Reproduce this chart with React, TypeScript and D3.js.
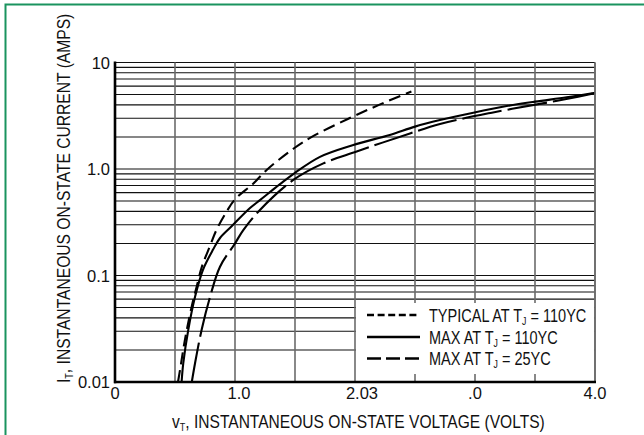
import * as d3 from "d3";

// tick values and the labels as printed on the sheet
const xTickValues = [0, 1, 2, 3, 4];
const xTickLabels = ["0", "1.0", "2.03", ".0", "4.0"];
const yTickValues = [0.01, 0.1, 1, 10];
const yTickLabels = ["0.01", "0.1", "1.0", "10"];

// [volts, amps]
const typical110: [number, number][] = [
  [0.525, 0.01], [0.542, 0.013], [0.583, 0.025], [0.639, 0.051], [0.681, 0.079],
  [0.723, 0.12], [0.792, 0.19], [0.847, 0.27], [0.931, 0.4], [1.0, 0.52],
  [1.153, 0.73], [1.264, 0.98], [1.486, 1.55], [1.64, 2.0], [1.94, 2.95],
  [2.2, 4.0], [2.47, 5.35],
];
const max110: [number, number][] = [
  [0.555, 0.01], [0.569, 0.015], [0.611, 0.031], [0.667, 0.063], [0.733, 0.113],
  [0.817, 0.175], [0.875, 0.225], [0.972, 0.29], [1.125, 0.43], [1.208, 0.51],
  [1.375, 0.72], [1.5, 0.92], [1.708, 1.3], [1.986, 1.68], [2.29, 2.09],
  [2.5, 2.5], [2.708, 2.88], [2.986, 3.38], [3.264, 3.9], [3.5, 4.29],
  [3.764, 4.71], [4.0, 5.2],
];
const max25: [number, number][] = [
  [0.64, 0.01], [0.667, 0.015], [0.722, 0.031], [0.792, 0.063], [0.875, 0.121],
  [1.0, 0.2], [1.069, 0.267], [1.208, 0.413], [1.486, 0.79], [1.736, 1.13],
  [2.014, 1.46], [2.458, 2.16], [2.708, 2.65], [3.14, 3.38], [3.6, 4.2],
  [3.75, 4.52], [4.0, 5.15],
];

const legendPrefix = ["TYPICAL AT T", "MAX AT T", "MAX AT T"];
const legendSuffix = [" = 110YC", " = 110YC", " = 25YC"];

const font = "'Liberation Sans', Arial, sans-serif";

export default function App() {
  const x = d3.scaleLinear().domain([0, 4]).range([115, 595]);
  const y = d3.scaleLog().domain([0.01, 10]).range([382, 62.5]);

  const line = d3
    .line<[number, number]>()
    .x((d) => x(d[0]))
    .y((d) => y(d[1]))
    .curve(d3.curveCatmullRom.alpha(0.5));

  // horizontal grid: every 1..9 step inside each decade
  const hGrid: number[] = [];
  [0.01, 0.1, 1].forEach((d) => {
    for (let k = 1; k <= 9; k++) hGrid.push(d * k);
  });
  hGrid.push(10);
  const vGrid = d3.range(0.5, 4.01, 0.5);

  const legendX = 356, legendY = 303;
  const curves = [
    { data: typical110, dash: "12,6", legendDash: "7,3.6" },
    { data: max110, dash: null, legendDash: null },
    { data: max25, dash: "40,6", legendDash: "14,5" },
  ];
  const rowY = [315, 337, 358.5];

  return (
    <svg
      width={644}
      height={435}
      style={{ position: "absolute", left: 0, top: 0, background: "#fff" }}
      fontFamily={font}
    >
      {/* frame */}
      <path d="M5.5,435 V4.5 H644" fill="none" stroke="#1a935f" strokeWidth={2} />

      {/* grid */}
      {hGrid.map((v, i) => (
        <line key={"h" + i} x1={x(0)} x2={x(4)} y1={y(v)} y2={y(v)} stroke="#111" strokeWidth={1.1} />
      ))}
      {vGrid.map((v, i) => (
        <line key={"v" + i} x1={x(v)} x2={x(v)} y1={y(10)} y2={y(0.01)} stroke="#6b6b6b" strokeWidth={1.6} />
      ))}

      {/* curves */}
      {curves.map((c, i) => (
        <path
          key={"c" + i}
          d={line(c.data) || ""}
          fill="none"
          stroke="#000"
          strokeWidth={2.1}
          strokeDasharray={c.dash || undefined}
        />
      ))}

      {/* legend */}
      <rect x={legendX} y={legendY} width={x(4) - legendX - 1} height={y(0.01) - legendY} fill="#fff" />
      {[2.5, 3, 3.5].map((v) => (
        <line key={"t" + v} x1={x(v)} x2={x(v)} y1={y(0.01) - 8} y2={y(0.01)} stroke="#6b6b6b" strokeWidth={1.6} />
      ))}
      <line x1={x(4)} x2={x(4)} y1={y(10)} y2={y(0.01)} stroke="#6b6b6b" strokeWidth={1.6} />
      {curves.map((c, i) => (
        <g key={"l" + i} fill="#111">
          <line
            x1={367}
            x2={420}
            y1={rowY[i]}
            y2={rowY[i]}
            stroke="#000"
            strokeWidth={2.4}
            strokeDasharray={c.legendDash || undefined}
          />
          <g transform={`translate(429,${rowY[i] + 6.5}) scale(0.83,1)`}>
            <text x={0} y={0} fontSize={17.5}>
              {legendPrefix[i]}
              <tspan dy={3} fontSize={10.5}>J</tspan>
              <tspan dy={-3}>{legendSuffix[i]}</tspan>
            </text>
          </g>
        </g>
      ))}

      {/* axes */}
      <line x1={x(0)} x2={x(0)} y1={y(10) - 1} y2={y(0.01) + 1.2} stroke="#000" strokeWidth={2.6} />
      <line x1={x(0) - 1} x2={x(4) + 1} y1={y(0.01)} y2={y(0.01)} stroke="#000" strokeWidth={2.6} />

      {xTickValues.map((v, i) => (
        <text
          key={"xl" + i}
          x={x(v) + (i === 2 ? 7 : i === 1 ? 4 : 0)}
          y={398.5}
          fontSize={16.5}
          textAnchor="middle"
          fill="#111"
        >
          {xTickLabels[i]}
        </text>
      ))}
      {yTickValues.map((v, i) => (
        <text key={"yl" + i} x={110} y={y(v) + 6} fontSize={16.5} textAnchor="end" fill="#111">
          {yTickLabels[i]}
        </text>
      ))}

      {/* axis titles, squeezed sideways to match the condensed face */}
      <g fill="#111" transform="translate(172,428) scale(0.82,1)">
        <text x={0} y={0} fontSize={19}>
          v<tspan dy={3} fontSize={11}>T</tspan>
          <tspan dy={-3}>, INSTANTANEOUS ON-STATE VOLTAGE (VOLTS)</tspan>
        </text>
      </g>
      <g fill="#111" transform="translate(70,383) rotate(-90) scale(0.823,1)">
        <text x={0} y={0} fontSize={19}>
          I<tspan dy={3} fontSize={11}>T</tspan>
          <tspan dy={-3}>, INSTANTANEOUS ON-STATE CURRENT (AMPS)</tspan>
        </text>
      </g>
    </svg>
  );
}
